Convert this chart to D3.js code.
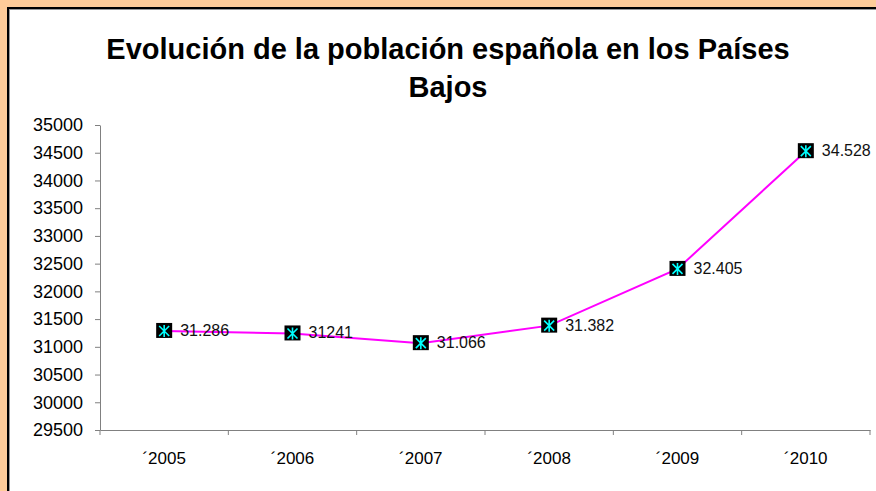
<!DOCTYPE html>
<html><head><meta charset="utf-8">
<script src="https://cdn.jsdelivr.net/npm/d3@7"></script>
<style>html,body{margin:0;padding:0;background:#FFCC99;}svg{display:block;}</style>
</head><body>
<script>
const categories = ["´2005","´2006","´2007","´2008","´2009","´2010"];
const values = [31286, 31241, 31066, 31382, 32405, 34528];
const valueLabels = ["31.286","31241","31.066","31.382","32.405","34.528"];
const yTicks = [29500,30000,30500,31000,31500,32000,32500,33000,33500,34000,34500,35000];
const titleLines = ["Evolución de la población española en los Países","Bajos"];

(function(){
const W = 876, H = 491;
const svg = d3.select("body").append("svg").attr("width", W).attr("height", H);
svg.append("rect").attr("width", W).attr("height", H).attr("fill", "#FFCC99");
svg.append("rect").attr("x", 8).attr("y", 8).attr("width", W).attr("height", H)
  .attr("fill", "#fff").attr("stroke", "#000").attr("stroke-width", 2);
svg.append("line").attr("x1", 9.5).attr("x2", 9.5).attr("y1", 9).attr("y2", H).attr("stroke", "#999").attr("stroke-width", 1);
svg.append("line").attr("x1", 9).attr("x2", W).attr("y1", 9.5).attr("y2", 9.5).attr("stroke", "#999").attr("stroke-width", 1);

const font = "Liberation Sans, Arial, sans-serif";
svg.selectAll("text.title").data(titleLines).enter().append("text")
  .attr("x", 448).attr("y", (d,i) => 59 + i*38)
  .attr("text-anchor", "middle").attr("font-family", font)
  .attr("font-weight", "bold").attr("font-size", 29).attr("fill", "#000").text(d => d);

const pLeft = 100, pRight = 870, pTop = 125, pBottom = 430;
const x = d3.scaleBand().domain(categories).range([pLeft, pRight]);
const y = d3.scaleLinear().domain([29500, 35000]).range([pBottom, pTop]);

const yAxis = svg.append("g").attr("transform", `translate(${pLeft},0)`)
  .call(d3.axisLeft(y).tickValues(yTicks).tickSize(5).tickSizeOuter(0).tickPadding(12).tickFormat(d3.format("d")));
yAxis.select(".domain").attr("stroke", "#808080");
yAxis.selectAll(".tick line").attr("stroke", "#808080");
yAxis.selectAll("text").attr("font-family", font).attr("font-size", 18).attr("fill", "#000");

const xAxis = svg.append("g").attr("transform", `translate(0,${pBottom})`)
  .call(d3.axisBottom(x).tickSize(0).tickPadding(22));
xAxis.select(".domain").attr("stroke", "#808080");
xAxis.selectAll("text").attr("font-family", font).attr("font-size", 17).attr("fill", "#000").attr("dy", "0.71em");
const bounds = categories.map(c => x(c)).concat([pRight]);
svg.append("g").selectAll("line").data(bounds).enter().append("line")
  .attr("x1", d => d).attr("x2", d => d).attr("y1", pBottom).attr("y2", pBottom + 5)
  .attr("stroke", "#808080");

const pts = categories.map((c,i) => ({x: x(c) + x.bandwidth()/2, y: y(values[i]), label: valueLabels[i]}));
svg.append("path").datum(pts).attr("fill", "none").attr("stroke", "#FF00FF").attr("stroke-width", 2)
  .attr("d", d3.line().x(d => d.x).y(d => d.y));

const m = svg.append("g").selectAll("g").data(pts).enter().append("g")
  .attr("transform", d => `translate(${d.x},${d.y})`);
m.append("rect").attr("x", -8).attr("y", -8).attr("width", 16).attr("height", 15).attr("fill", "#000");
m.append("path").attr("d", "M-5,-5L5,5M5,-5L-5,5M0,-6L0,6")
  .attr("stroke", "#00FFFF").attr("stroke-width", 1.6).attr("fill", "none");

svg.append("g").selectAll("text").data(pts).enter().append("text")
  .attr("x", d => d.x + 16).attr("y", d => d.y + 5)
  .attr("font-family", font).attr("font-size", 16).attr("fill", "#111").text(d => d.label);
})();
</script>
</body></html>
